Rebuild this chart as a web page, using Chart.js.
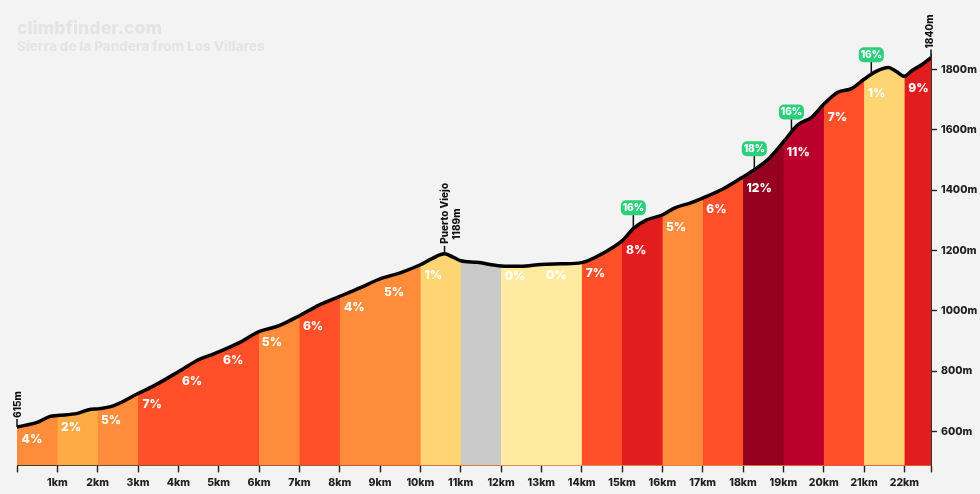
<!DOCTYPE html>
<html><head><meta charset="utf-8">
<style>html,body{margin:0;padding:0;background:#f3f3f3}#w{width:980px;height:494px}</style>
<script src="https://cdn.jsdelivr.net/npm/chart.js@4"></script></head>
<body><div id="w"><canvas id="c"></canvas></div>
<script>
const profileKm=[0,0.5,0.82,1,1.5,1.8,2,2.4,3,3.4,4,4.5,4.85,5,5.5,6,6.5,7,7.5,8,8.5,9,9.5,10,10.3,10.6,10.8,11,11.4,12,12.5,13,13.5,14,14.5,15,15.3,15.6,16,16.3,16.7,17,17.5,18,18.3,18.6,19,19.35,19.7,20,20.35,20.7,21,21.3,21.6,21.8,22,22.2,22.45,22.66];
const profileElev=[615,630,650,653,660,673,675,686,726,752,798,838,856,864,894,931,951,984,1020,1048,1076,1106,1126,1153,1174,1189,1179,1166,1161,1149,1148,1154,1156,1160,1189,1232,1275,1301,1318,1341,1358,1374,1404,1444,1470,1500,1560,1616,1642,1685,1725,1738,1768,1794,1807,1794,1778,1798,1818,1840];
const kmColors=['#ff8c3b','#ffab45','#ff8c3b','#ff5029','#ff5029','#ff5029','#ff8c3b','#ff5029','#ff8c3b','#ff8c3b','#ffd573','#c9c9c9','#ffeb9f','#ffeb9f','#ff5029','#e21d1e','#ff8c3b','#ff5029','#960020','#bb002d','#ff5029','#ffd573','#e21d1e'];
const gradeText=['4%','2%','5%','7%','6%','6%','5%','6%','4%','5%','1%','0%','0%','7%','8%','5%','6%','12%','11%','7%','1%','9%'];
const gradeKm=[0.37,1.34,2.33,3.35,4.34,5.36,6.32,7.34,8.36,9.35,10.32,12.35,13.37,14.34,15.35,16.34,17.34,18.4,19.37,20.34,21.31,22.35];
const gradeElev=[574,613,636,689,765,835,894,947,1010,1060,1116,1113,1116,1123,1199,1278,1338,1407,1526,1642,1722,1738];
const steepText=['16%','18%','16%','16%'];
const steepKm=[15.28,18.28,19.2,21.18];
const steepElev=[1272,1468,1590,1780];
const yTicks=[600,800,1000,1200,1400,1600,1800];
const xTicks=[0,1,2,3,4,5,6,7,8,9,10,11,12,13,14,15,16,17,18,19,20,21,22];
const xEnd=22.66, yMin=487.5, yMax=1850;
const FONT='Inter, "Open Sans", sans-serif';

const overlay={id:'overlay',afterDatasetsDraw(ch){
  const {ctx,scales:{x,y}}=ch;
  ctx.save();
  ctx.textBaseline='middle';ctx.textAlign='center';
  ctx.font='800 12px '+FONT;ctx.fillStyle='#fff';
  gradeText.forEach((t,i)=>ctx.fillText(t,x.getPixelForValue(gradeKm[i]),y.getPixelForValue(gradeElev[i])));
  steepText.forEach((t,i)=>{
    const px=x.getPixelForValue(steepKm[i]),py=y.getPixelForValue(steepElev[i]);
    ctx.strokeStyle='#111';ctx.lineWidth=1.5;ctx.beginPath();ctx.moveTo(px,py);ctx.lineTo(px,py-16);ctx.stroke();
    ctx.fillStyle='#2ecf7c';ctx.beginPath();ctx.roundRect(px-12.5,py-28.5,25,15,5);ctx.fill();
    ctx.fillStyle='#fff';ctx.font='800 10px '+FONT;ctx.fillText(t,px,py-20.5);
  });
  const vtext=(t,px,py,align,font)=>{ctx.save();ctx.translate(px,py);ctx.rotate(-Math.PI/2);ctx.textAlign=align;ctx.fillStyle='#111';ctx.font=font;ctx.fillText(t,0,0);ctx.restore();};
  const mark=(km,elev)=>{const px=x.getPixelForValue(km),py=y.getPixelForValue(elev);
    ctx.strokeStyle='#111';ctx.lineWidth=1.5;ctx.beginPath();ctx.moveTo(px,py);ctx.lineTo(px,py-8);ctx.stroke();return [px,py];};
  const f='800 10px '+FONT;
  let p=mark(0,profileElev[0]);vtext(profileElev[0]+'m',p[0]+1,p[1]-9,'left',f);
  p=mark(10.6,1189);vtext('Puerto Viejo',p[0]+0.5,p[1]-10,'left',f);vtext('1189m',p[0]+12.5,p[1]-14,'left',f);
  p=mark(xEnd,1840);vtext('1840m',p[0]-1,p[1]-9,'left',f);
  ctx.restore();
}};

const points=profileKm.map((k,i)=>({x:k,y:profileElev[i]}));
const fillSets=kmColors.map((col,k)=>({
  data:points.filter(p=>p.x>=k),
  borderWidth:0,borderColor:'transparent',pointRadius:0,cubicInterpolationMode:'monotone',
  fill:'start',backgroundColor:col,order:100-k
}));
new Chart(document.getElementById('c'),{
  type:'line',
  data:{datasets:fillSets.concat([{
    data:points,borderColor:'#000',borderWidth:3.5,pointRadius:0,cubicInterpolationMode:'monotone',fill:false,order:0
  }])},
  options:{
    responsive:true,maintainAspectRatio:false,animation:false,
    layout:{padding:{left:17,right:0,top:0,bottom:1}},
    plugins:{
      legend:{display:false},tooltip:{enabled:false},
      title:{display:true,text:'climbfinder.com',align:'start',color:'#e4e4e4',font:{family:FONT,size:17.8,weight:'800'},padding:{top:18,bottom:-1}},
      subtitle:{display:true,text:'Sierra de la Pandera from Los Villares',align:'start',color:'#e4e4e4',font:{family:FONT,size:13.5,weight:'800'},padding:{top:0,bottom:0}}
    },
    scales:{
      x:{type:'linear',min:0,max:xEnd,
        afterBuildTicks:s=>{s.ticks=xTicks.concat([xEnd]).map(v=>({value:v}));},
        grid:{drawOnChartArea:false,color:'#222',tickLength:7,tickWidth:1.4},
        border:{color:'#333',width:1},
        ticks:{autoSkip:false,maxRotation:0,color:'#222',padding:4,font:{family:FONT,size:10.5,weight:'800'},
          callback:v=>(v>0&&v<=22&&Number.isInteger(v))?v+'km':''}},
      y:{position:'right',min:yMin,max:yMax,
        afterBuildTicks:s=>{s.ticks=yTicks.map(v=>({value:v}));},
        afterFit:s=>{s.width=49;},
        grid:{drawOnChartArea:false,color:'#222',tickLength:6,tickWidth:1.4},
        border:{color:'#333',width:1},
        ticks:{color:'#222',padding:4,font:{family:FONT,size:10.5,weight:'800'},callback:v=>v+'m'}}
    }
  },
  plugins:[overlay]
});
</script></body></html>
